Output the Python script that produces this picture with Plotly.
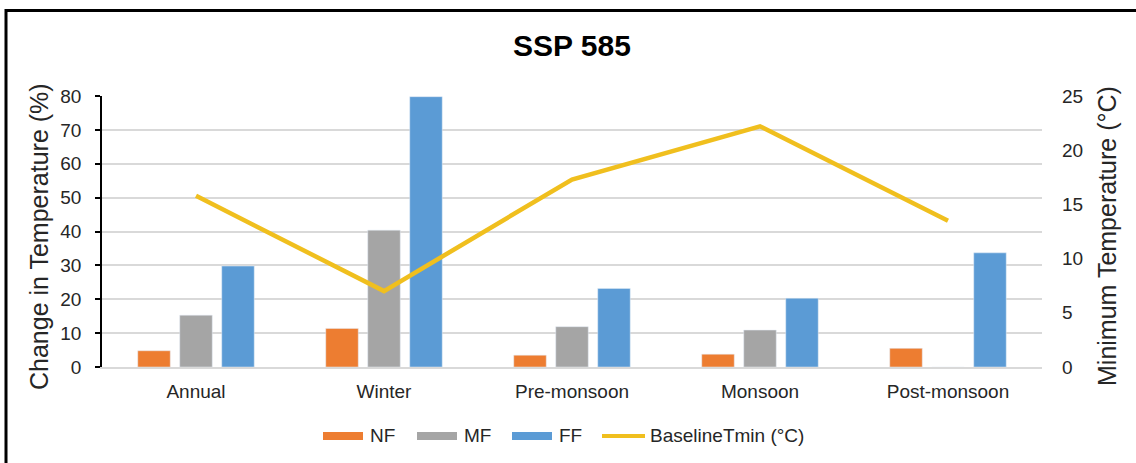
import plotly.graph_objects as go

# Seasons and projected change in minimum temperature (%) per future period
seasons = ["Annual", "Winter", "Pre-monsoon", "Monsoon", "Post-monsoon"]
nf = [4.8, 11.4, 3.5, 3.8, 5.5]
mf = [15.3, 40.4, 11.9, 10.9, -0.6]
ff = [29.8, 79.8, 23.2, 20.3, 33.7]
# Baseline minimum temperature (°C)
baseline_tmin = [15.8, 7.0, 17.3, 22.2, 13.5]

left_ticks = list(range(0, 81, 10))
right_ticks = list(range(0, 26, 5))

W, H = 1136, 463
L, R, T, B = 102, 1042, 96, 367  # plot-area edges in pixels

def px(x):
    return (x - L) / (R - L)

def py(y):
    return (B - y) / (B - T)

FONT = "Liberation Sans, Arial, sans-serif"
TXT = "#262626"
ORANGE, GREY, BLUE, GOLD = "#ED7D31", "#A5A5A5", "#5B9BD5", "#F0BF1E"

fig = go.Figure()
fig.add_trace(go.Bar(x=seasons, y=nf, name="NF", marker_color=ORANGE))
fig.add_trace(go.Bar(x=seasons, y=mf, name="MF", marker_color=GREY))
fig.add_trace(go.Bar(x=seasons, y=ff, name="FF", marker_color=BLUE))
fig.add_trace(go.Scatter(x=seasons, y=baseline_tmin, name="BaselineTmin (°C)",
                         mode="lines", line=dict(color=GOLD, width=4.5),
                         yaxis="y2"))

fig.update_layout(
    width=W, height=H,
    margin=dict(l=L, r=W - R, t=T, b=H - B, pad=0),
    paper_bgcolor="white", plot_bgcolor="white",
    barmode="group", bargap=0.33, bargroupgap=0.226,
    showlegend=False,
    font=dict(family=FONT, color=TXT, size=19),
    title=dict(text="<b>SSP 585</b>", xref="paper", x=0.5, xanchor="center",
               yref="container", y=1 - 45 / H, yanchor="middle",
               font=dict(family=FONT, size=30, color="black")),
    xaxis=dict(showline=True, linecolor="#d9d9d9", linewidth=1.5,
               ticks="", showgrid=False, tickfont=dict(size=19, color=TXT),
               ticklabelstandoff=6),
    yaxis=dict(range=[0, 80], tickvals=left_ticks, showline=True,
               linecolor="black", linewidth=1.5, ticks="outside", ticklen=5,
               tickwidth=1.5, tickcolor="black", showgrid=True,
               gridcolor="#d9d9d9", gridwidth=1.5, zeroline=False,
               tickfont=dict(size=19, color=TXT), ticklabelstandoff=10),
    yaxis2=dict(range=[0, 25], tickvals=right_ticks, overlaying="y",
                side="right", showline=False, showgrid=False, zeroline=False,
                ticks="", tickfont=dict(size=19, color=TXT),
                ticklabelstandoff=19),
    yaxis3=dict(range=[0, 80], tickvals=left_ticks, overlaying="y",
                side="left", anchor="x", showline=False, showgrid=False,
                zeroline=False, ticks="inside", ticklen=5, tickwidth=1.5,
                tickcolor="black", showticklabels=False),
)

# Axis titles
fig.add_annotation(text="Change in Temperature (%)", textangle=-90,
                   xref="paper", yref="paper", x=px(39), y=py(237),
                   xanchor="center", yanchor="middle", showarrow=False,
                   font=dict(size=25, color=TXT))
fig.add_annotation(text="Minimum Temperature (°C)", textangle=-90,
                   xref="paper", yref="paper", x=px(1107), y=py(236),
                   xanchor="center", yanchor="middle", showarrow=False,
                   font=dict(size=25, color=TXT))

# Legend
legend_y = 436
swatches = [("NF", ORANGE, 323, 363, 368), ("MF", GREY, 417, 457, 462),
            ("FF", BLUE, 512, 552, 557)]
for label, color, x0, x1, tx in swatches:
    fig.add_shape(type="rect", xref="paper", yref="paper",
                  x0=px(x0), x1=px(x1), y0=py(legend_y + 4), y1=py(legend_y - 4),
                  fillcolor=color, line=dict(width=0))
    fig.add_annotation(text=label, xref="paper", yref="paper", x=px(tx),
                       y=py(legend_y), xanchor="left", yanchor="middle",
                       showarrow=False, font=dict(size=19, color=TXT))
fig.add_shape(type="line", xref="paper", yref="paper", x0=px(602), x1=px(645),
              y0=py(legend_y), y1=py(legend_y), line=dict(color=GOLD, width=4))
fig.add_annotation(text="BaselineTmin (°C)", xref="paper", yref="paper",
                   x=px(648), y=py(legend_y), xanchor="left", yanchor="middle",
                   showarrow=False, font=dict(size=19, color=TXT))

# Outer frame
fig.add_shape(type="rect", xref="paper", yref="paper", layer="above",
              x0=px(6), x1=px(1145), y0=py(475), y1=py(10.5),
              line=dict(color="black", width=3), fillcolor="rgba(0,0,0,0)")

fig.write_html("out.html")
